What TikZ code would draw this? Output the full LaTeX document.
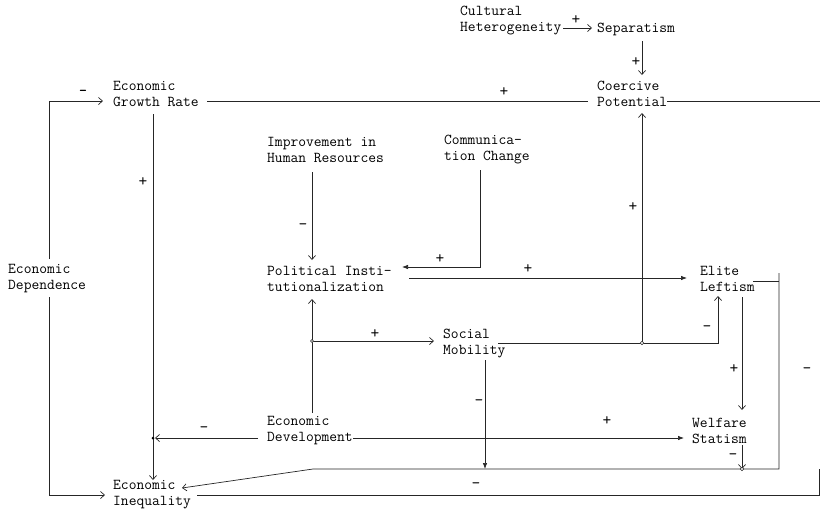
\documentclass[tikz,border=0pt]{standalone}
\usetikzlibrary{arrows.meta}
\begin{document}
\begin{tikzpicture}[x=1pt,y=-1pt,
  lbl/.style={font=\fontsize{15.1}{16}\selectfont\ttfamily, align=left, inner sep=0pt, anchor=west},
  sgn/.style={font=\fontsize{17}{18}\selectfont\ttfamily, inner sep=0pt},
  ln/.style={line width=0.7pt, draw=black!85},
  oa/.style={ln, -{Straight Barb[length=4pt,width=7pt]}},
  fa/.style={ln, -{Latex[length=6pt,width=4.5pt]}},
  jdot/.style={circle, fill=black, inner sep=0pt, minimum size=3pt},
  ring/.style={circle, draw=black!85, fill=white, inner sep=0pt, minimum size=3.5pt, line width=0.6pt}
]
\useasboundingbox (0,0) rectangle (820,512);

% nodes
\node[lbl] (cult) at (460,21) {Cultural\\Heterogeneity};
\node[lbl] (sep) at (597,29) {Separatism};
\node[lbl] (pot) at (597,93.5) {Coercive\\Potential};
\node[lbl] (gr) at (113,93.5) {Economic\\Growth Rate};
\node[lbl] (dep) at (8,279) {Economic\\Dependence};
\node[lbl] (ihr) at (267,150) {Improvement in\\Human Resources};
\node[lbl] (comm) at (444,150) {Communica-\\tion Change};
\node[lbl] (pol) at (267,279) {Political Insti-\\tutionalization};
\node[lbl] (elite) at (700,279) {Elite\\Leftism};
\node[lbl] (soc) at (443,343.5) {Social\\Mobility};
\node[lbl] (dev) at (267,430.5) {Economic\\Development};
\node[lbl] (wel) at (692,431) {Welfare\\Statism};
\node[lbl] (ineq) at (113,495) {Economic\\Inequality};

% junction coordinates
\coordinate (jgr) at (153,438);
\coordinate (jdev) at (312,341);
\coordinate (jpot) at (642,343);
\coordinate (jsoc) at (718,343);
\coordinate (jel) at (779,281);
\coordinate (jbot) at (779,469);
\coordinate (jdiag) at (313,469);
\coordinate (jsm) at (485,469);
\coordinate (jwel) at (742,469);
\coordinate (jleft) at (49,101);
\coordinate (jleftb) at (49,495);
\coordinate (jcomm) at (480,267);
\coordinate (eR) at (820,101);
\coordinate (eBR) at (819,495);
\coordinate (eBRt) at (819,469);

% connectors
\draw[oa] (563,28) -- (592,28);
\node[sgn] at (576,20) {+};

\draw[oa] (642,41) -- (642,75);
\node[sgn] at (636,62) {+};

\draw[ln] (207,101) -- (588,101);
\node[sgn] at (504,92) {+};
\draw[ln] (667,101) -- (eR);

\draw[oa] (49,259) -- (jleft) -- (103,101);
\node[sgn,font=\fontsize{15.1}{16}\selectfont\ttfamily\bfseries] at (83,93) {-};
\draw[oa] (49,297) -- (jleftb) -- (105,495);

\draw[oa] (153,114) -- (153,480);
\node[sgn] at (143,182) {+};
\node[jdot] at (jgr) {};

\draw[oa] (258,438) -- (155,438);
\node[sgn] at (204,430) {-};

\draw[fa] (353,438) -- (684,438);
\node[sgn] at (607,421) {+};

\draw[oa] (312,413) -- (312,299);
\draw[oa] (jdev) -- (434,341);
\node[sgn] at (375,334) {+};
\node[ring, minimum size=3pt] at (jdev) {};

\draw[oa] (312,172) -- (312,260);
\node[sgn] at (303,227) {-};

\draw[fa] (480,170) -- (jcomm) -- (402,267);
\node[sgn] at (440,259) {+};

\draw[fa] (409,278) -- (687,278);
\node[sgn] at (528,269) {+};

\draw[oa] (jpot) -- (642,113);
\node[sgn] at (633,207) {+};

\draw[oa] (498,343) -- (jsoc) -- (718,296);
\node[sgn] at (707,329) {-};
\node[ring] at (jpot) {};

\draw[oa] (742,297) -- (742,410);
\node[sgn] at (734,369) {+};

\draw[ln] (753,281) -- (jel);
\draw[oa] (779,273) -- (jbot) -- (jdiag) -- (182,488);
\node[sgn] at (807,371) {-};

\draw[fa] (485,360) -- (jsm);
\node[sgn] at (479,403) {-};

\draw[oa] (742,445) -- (jwel);
\node[sgn] at (733,457) {-};
\node[ring] at (jwel) {};

\draw[ln] (197,495) -- (eBR) -- (eBRt);
\node[sgn] at (476,486) {-};

\end{tikzpicture}
\end{document}
